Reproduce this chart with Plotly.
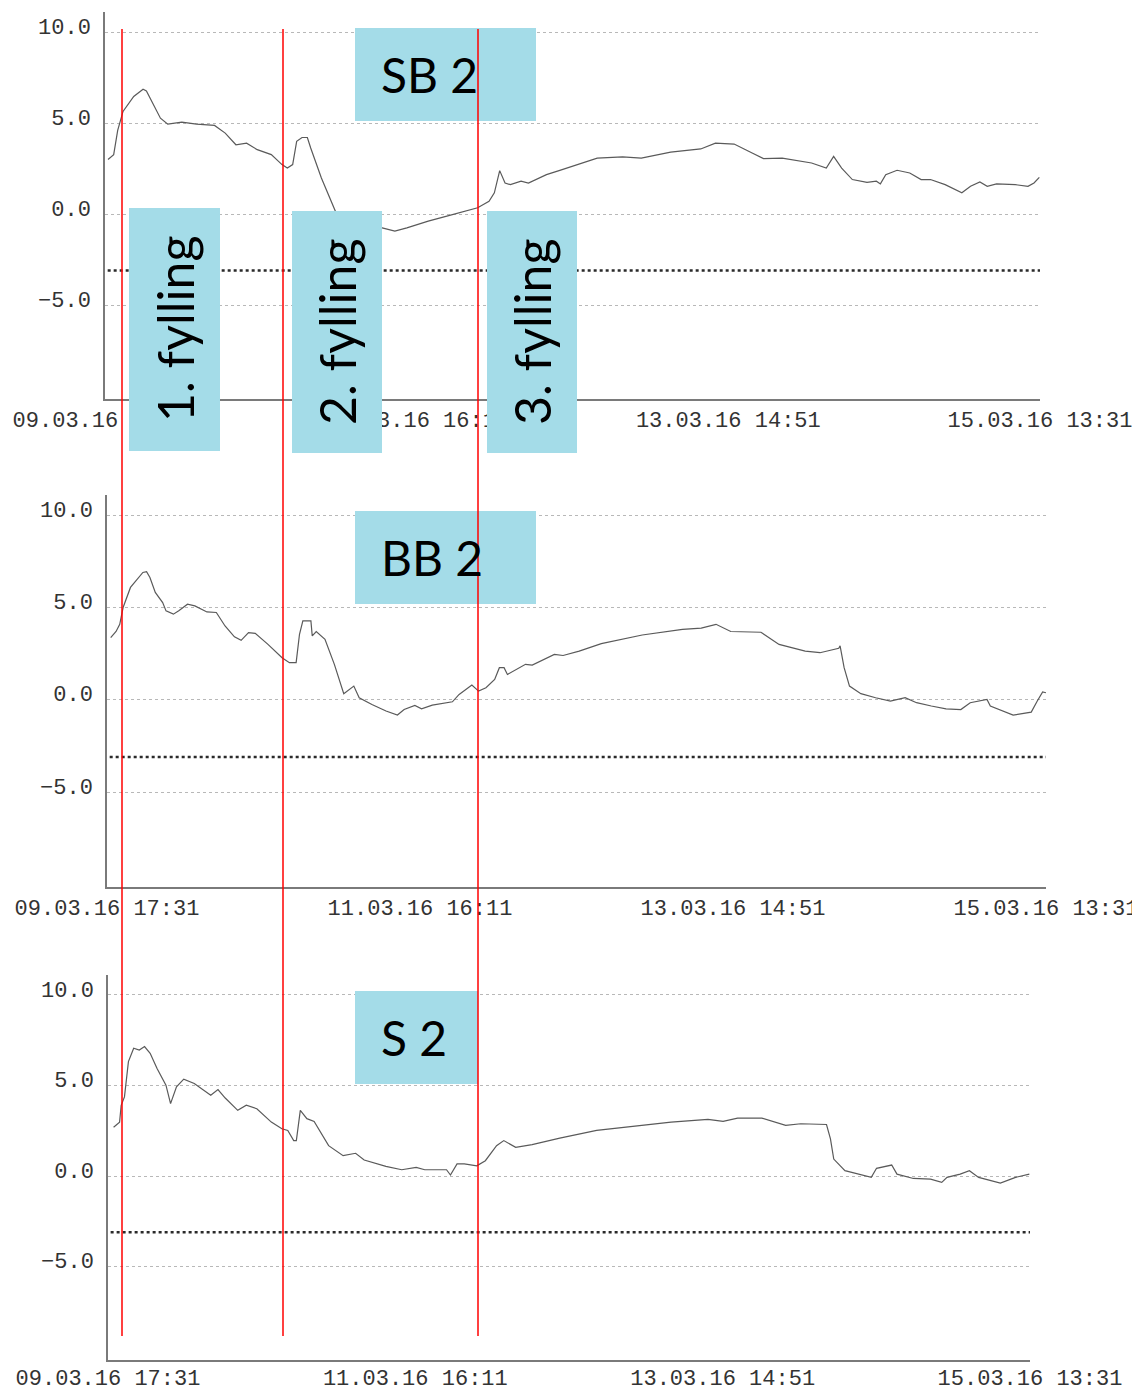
import pandas as pd
import plotly.graph_objects as go

# ---------------- data ----------------
start_time = "2016-03-09 17:31"
end_time = "2016-03-15 13:31"
tick_step_hours = 46 + 40 / 60  # 46 h 40 min between labelled ticks
threshold = -3.1

# SB 2 (hours after start, value)
sb2_hours = [0.45, 1.3, 1.9, 2.7, 4.3, 5.7, 6.2, 7.3, 8.3, 9.4, 11.5, 13.7, 16.4, 18.0, 19.6,
             21.2, 22.8, 24.9, 26.5, 27.3, 28.1, 28.7, 29.5, 30.3, 30.8, 32.4, 34.5, 37.0,
             39.5, 41.5, 43.4, 45.2, 48.4, 51.6, 53.8, 55.8, 57.5, 58.3, 59.1, 59.9, 60.7,
             62.3, 63.4, 66.1, 68.1, 71.4, 73.7, 77.5, 80.3, 84.7, 89.2, 91.4, 94.2, 96.9,
             98.6, 101.4, 105.8, 108.0, 109.1, 110.3, 111.9, 114.1, 115.5, 116.1, 116.9,
             118.6, 120.5, 122.2, 123.6, 125.8, 128.3, 129.6, 131.0, 132.1, 133.5, 136.3,
             138.2, 139.1, 139.9]
sb2_values = [3.0, 3.27, 4.6, 5.64, 6.46, 6.86, 6.77, 6.0, 5.27, 4.94, 5.05, 4.94, 4.87, 4.45,
              3.81, 3.9, 3.54, 3.27, 2.72, 2.53, 2.72, 4.0, 4.21, 4.21, 3.63, 1.99, 0.16, -0.35,
              -0.65, -0.75, -0.93, -0.75, -0.38, -0.07, 0.16, 0.35, 0.71, 1.17, 2.39, 1.71,
              1.62, 1.81, 1.71, 2.17, 2.4, 2.81, 3.08, 3.14, 3.08, 3.41, 3.58, 3.9, 3.85, 3.36,
              3.05, 3.08, 2.81, 2.53, 3.17, 2.53, 1.9, 1.75, 1.81, 1.66, 2.17, 2.41, 2.26, 1.9,
              1.9, 1.62, 1.17, 1.53, 1.77, 1.53, 1.66, 1.62, 1.53, 1.71, 2.02]

# BB 2
bb2_hours = [0.55, 1.35, 1.9, 2.4, 3.5, 4.55, 5.35, 5.9, 6.4, 7.2, 8.3, 8.8, 9.9, 10.7, 12.0,
             13.1, 14.9, 16.3, 17.6, 19.0, 20.0, 21.1, 22.1, 24.0, 26.1, 27.2, 28.2, 28.7,
             29.2, 30.4, 30.6, 31.2, 32.5, 33.9, 35.3, 36.8, 37.6, 39.5, 41.6, 43.3, 44.3,
             45.9, 46.9, 48.5, 51.5, 52.5, 54.4, 55.4, 56.5, 57.8, 58.5, 59.2, 59.7, 62.4,
             63.4, 66.7, 68.0, 70.4, 73.7, 79.8, 85.8, 88.6, 90.8, 93.0, 97.5, 100.2, 104.1,
             106.3, 109.1, 109.3, 109.9, 110.7, 112.4, 114.6, 116.8, 119.0, 120.7, 122.9,
             125.1, 127.3, 128.7, 131.2, 131.7, 135.1, 137.8, 138.7, 139.5, 140.0]
bb2_values = [3.37, 3.7, 4.09, 5.0, 6.09, 6.54, 6.9, 6.94, 6.63, 5.82, 5.27, 4.82, 4.64, 4.82,
              5.18, 5.09, 4.76, 4.73, 4.0, 3.41, 3.22, 3.64, 3.6, 3.0, 2.28, 2.01, 2.01, 3.55,
              4.28, 4.28, 3.46, 3.7, 3.28, 1.92, 0.33, 0.74, 0.11, -0.26, -0.61, -0.83, -0.53,
              -0.31, -0.49, -0.29, -0.11, 0.29, 0.8, 0.47, 0.65, 1.1, 1.74, 1.74, 1.37, 1.92,
              1.88, 2.46, 2.4, 2.64, 3.04, 3.51, 3.82, 3.88, 4.09, 3.7, 3.66, 3.0, 2.64, 2.55,
              2.79, 2.92, 1.74, 0.74, 0.33, 0.11, -0.07, 0.11, -0.16, -0.34, -0.49, -0.53,
              -0.16, 0.02, -0.34, -0.83, -0.67, -0.07, 0.42, 0.38]

# S 2
s2_hours = [0.85, 1.76, 2.0, 2.5, 3.1, 3.9, 4.75, 5.55, 6.4, 7.45, 8.8, 9.5, 10.4, 11.5, 13.1,
            15.6, 16.7, 17.8, 19.7, 21.0, 22.6, 24.8, 26.4, 27.3, 28.2, 28.6, 29.2, 30.2,
            31.3, 33.5, 35.7, 37.6, 38.9, 42.2, 44.6, 46.8, 48.1, 51.4, 52.0, 53.0, 54.1,
            56.0, 57.3, 59.0, 60.1, 61.9, 64.4, 68.6, 74.2, 79.9, 85.5, 91.1, 93.4, 95.6,
            99.3, 102.9, 105.2, 109.1, 109.7, 110.2, 111.9, 115.9, 116.7, 119.0, 119.8,
            122.3, 124.9, 126.6, 127.4, 129.4, 130.8, 132.2, 135.5, 137.8, 139.9]
s2_values = [2.7, 2.98, 3.91, 4.37, 6.32, 7.06, 6.96, 7.15, 6.78, 5.94, 5.02, 4.0, 4.93, 5.35,
             5.11, 4.46, 4.78, 4.31, 3.63, 3.91, 3.72, 2.98, 2.61, 2.52, 1.96, 1.96, 3.63,
             3.17, 3.02, 1.68, 1.13, 1.26, 0.89, 0.54, 0.35, 0.48, 0.35, 0.35, 0.06, 0.67,
             0.67, 0.57, 0.85, 1.68, 1.96, 1.59, 1.74, 2.1, 2.52, 2.76, 2.98, 3.13, 3.02, 3.2,
             3.2, 2.8, 2.89, 2.85, 2.06, 0.94, 0.3, -0.07, 0.43, 0.61, 0.11, -0.13, -0.17,
             -0.35, -0.07, 0.11, 0.3, -0.07, -0.39, -0.07, 0.11]

panel_names = ["SB 2", "BB 2", "S 2"]
fill_labels = ["1. fylling", "2. fylling", "3. fylling"]
y_tick_values = [-5, 0, 5, 10]

# ---------------- figure ----------------
W, H = 1140, 1391
OFF = 8  # page body margin in the screenshot
t0 = pd.Timestamp(start_time)
t_end = pd.Timestamp(end_time)
step = pd.Timedelta(hours=tick_step_hours)
x_ticks = [t0 + k * step for k in range(4)]


def to_time(hours):
    return t0 + pd.to_timedelta(pd.Series(hours), unit="h")


def px_x(p):
    return (p - OFF) / W


def px_y(p):
    return 1 - (p - OFF) / H


# panel pixel boxes: (left, right, top, bottom)
panel_px = [(105, 1040, 12, 399), (107, 1046, 495, 887), (108, 1030, 975, 1360)]
series = [(sb2_hours, sb2_values), (bb2_hours, bb2_values), (s2_hours, s2_values)]
x_standoff = [0, 0, -3]

fig = go.Figure()
mono = "Liberation Mono, Courier New, monospace"
axis_col = "#7a7a7a"
lab_col = "#333333"

for i, ((l, r, t, b), (hrs, vals)) in enumerate(zip(panel_px, series)):
    sfx = "" if i == 0 else str(i + 1)
    xa, ya = "x" + sfx, "y" + sfx
    fig.add_trace(go.Scatter(x=[t0 + pd.Timedelta(hours=0.4), t_end], y=[threshold, threshold],
                             mode="lines", line=dict(color="#2a2a2a", width=2.5, dash="dot"),
                             xaxis=xa, yaxis=ya, showlegend=False, hoverinfo="skip"))
    fig.add_trace(go.Scatter(x=to_time(hrs), y=vals, mode="lines",
                             line=dict(color="#5a5a5a", width=1.2),
                             xaxis=xa, yaxis=ya, showlegend=False, name=panel_names[i]))
    fig.layout["xaxis" + sfx] = dict(
        domain=[px_x(l), px_x(r)], anchor=ya, type="date", automargin=False,
        range=[t0, t_end], tickvals=x_ticks, tickformat="%d.%m.%y %H:%M",
        showgrid=False, zeroline=False, showline=True, linecolor=axis_col, linewidth=1.5,
        ticks="", tickfont=dict(family=mono, size=22, color=lab_col),
        ticklabelstandoff=x_standoff[i],
    )
    fig.layout["yaxis" + sfx] = dict(
        domain=[px_y(b), px_y(t)], anchor=xa, range=[-10.15, 11.1], automargin=False,
        tickvals=y_tick_values, tickformat=".1f",
        showgrid=True, gridcolor="#b8b8b8", griddash="dot", gridwidth=1,
        zeroline=False, showline=True, linecolor=axis_col, linewidth=1.5,
        ticks="", tickfont=dict(family=mono, size=22, color=lab_col),
        ticklabelstandoff=8, ticklabelshift=-6,
    )

box_col = "#a4dce8"
# panel name boxes
name_boxes = [(355, 536, 28, 121), (355, 536, 511, 604), (355, 478, 991, 1084)]
for (l, r, t, b), name in zip(name_boxes, panel_names):
    fig.add_shape(type="rect", xref="paper", yref="paper", x0=px_x(l), x1=px_x(r),
                  y0=px_y(b), y1=px_y(t), fillcolor=box_col, line=dict(width=0), layer="above")
    fig.add_annotation(xref="paper", yref="paper", x=px_x(379), y=px_y((t + b) / 2),
                       xanchor="left", yanchor="middle", text=name, showarrow=False,
                       font=dict(family="Lato, Open Sans, sans-serif", size=48, color="#000"))

# filling boxes
fill_boxes = [(129, 220, 208, 451), (292, 382, 211, 453), (487, 577, 211, 453)]
for (l, r, t, b), lab in zip(fill_boxes, fill_labels):
    fig.add_shape(type="rect", xref="paper", yref="paper", x0=px_x(l), x1=px_x(r),
                  y0=px_y(b), y1=px_y(t), fillcolor=box_col, line=dict(width=0), layer="above")
    fig.add_annotation(xref="paper", yref="paper", x=px_x((l + r) / 2), y=px_y((t + b) / 2),
                       xanchor="center", yanchor="middle", text=lab, showarrow=False,
                       textangle=-90,
                       font=dict(family="Lato, Open Sans, sans-serif", size=50, color="#000"))

# red marker lines across all panels
for xp in [122, 283, 478]:
    fig.add_shape(type="line", xref="paper", yref="paper", x0=px_x(xp), x1=px_x(xp),
                  y0=px_y(1336), y1=px_y(29), line=dict(color="#ff0000", width=1.5),
                  layer="above")

fig.update_layout(template="none", width=W, height=H,
                  margin=dict(l=0, r=0, t=0, b=0, autoexpand=False),
                  paper_bgcolor="white", plot_bgcolor="white", showlegend=False)

fig.write_html("out.html")
